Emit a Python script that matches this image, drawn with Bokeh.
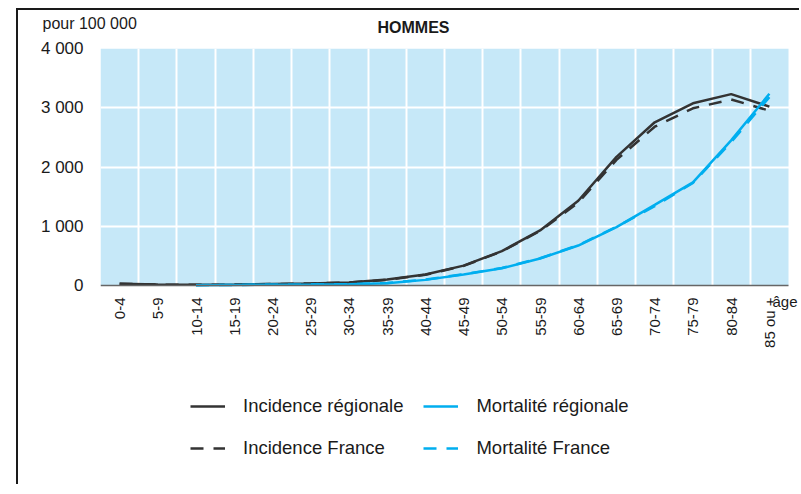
import math
from bokeh.plotting import figure
from bokeh.models import Range1d, FixedTicker, Label, Legend, LegendItem, BoxAnnotation
from bokeh.embed import file_html
from bokeh.resources import INLINE

age_groups = ["0-4", "5-9", "10-14", "15-19", "20-24", "25-29", "30-34", "35-39",
              "40-44", "45-49", "50-54", "55-59", "60-64", "65-69", "70-74", "75-79",
              "80-84", "85 ou +"]
incidence_regionale = [30, 15, 12, 15, 25, 35, 50, 100, 185, 335, 580, 930, 1430, 2170, 2755, 3075, 3230, 3020]
incidence_france = [30, 15, 12, 15, 25, 35, 50, 95, 180, 330, 575, 920, 1400, 2120, 2680, 2990, 3140, 2950]
# mortality starts at 10-14
mortalite_regionale = [5, 10, 12, 15, 20, 40, 95, 185, 290, 455, 675, 985, 1360, 1740, 2450, 3235]
mortalite_france = [5, 10, 12, 15, 22, 42, 100, 190, 295, 460, 680, 990, 1340, 1730, 2420, 3180]
y_ticks = [0, 1000, 2000, 3000, 4000]
y_tick_labels = ["0", "1 000", "2 000", "3 000", "4 000"]
y_max = 4000

FONT = "Liberation Sans"
TXT = "#1a1a1a"
DARK = "#333333"
BLUE = "#00aeef"
BG = "#c6e8f8"

# layout (pixels)
FIG_W = 783
FIG_H = 476
LEFT = 82
TOP = 38          # frame top inside canvas
BOTTOM = 8        # space under frame
PLOT_H = 237      # pixel height of the 0..y_max band
PLOT_W = 688      # pixel width of the category band
frame_h = FIG_H - TOP - BOTTOM
frame_w = FIG_W - LEFT
y_min = -(frame_h - PLOT_H) / PLOT_H * y_max

n = len(age_groups)
x_max = n * frame_w / PLOT_W
x_all = [i + 0.5 for i in range(n)]
x_mort = x_all[n - len(mortalite_regionale):]

p = figure(width=FIG_W, height=FIG_H, output_backend="svg", toolbar_location=None,
           x_range=Range1d(0, x_max), y_range=Range1d(y_min, y_max),
           min_border_left=LEFT, min_border_right=0, min_border_top=TOP, min_border_bottom=BOTTOM)
p.styles = {"border-top": "2px solid #1a1a1a", "border-left": "2px solid #1a1a1a",
            "margin-left": "16px", "margin-top": "8px"}
p.outline_line_color = None
p.background_fill_color = "white"
p.border_fill_color = "white"

p.add_layout(BoxAnnotation(left=0, right=n, bottom=0, top=y_max, fill_color=BG, fill_alpha=1,
                           line_color=None, level="image"))

# grids
p.xgrid.ticker = FixedTicker(ticks=list(range(1, n)))
p.ygrid.ticker = FixedTicker(ticks=[1000, 2000, 3000])
p.xgrid.bounds = (0, y_max)
p.ygrid.bounds = (0, n)
for g in (p.xgrid[0], p.ygrid[0]):
    g.grid_line_color = "white"
    g.grid_line_width = 2

# x axis, drawn at y = 0
xa = p.xaxis[0]
xa.fixed_location = 0
xa.bounds = (0, n)
xa.ticker = FixedTicker(ticks=x_all)
xa.major_label_overrides = {x: lab for x, lab in zip(x_all, age_groups)}
xa.major_label_orientation = math.pi / 2
xa.major_tick_line_color = None
xa.minor_tick_line_color = None
xa.axis_line_color = "#666666"
xa.axis_line_width = 1.5
xa.major_label_standoff = 6
xa.major_label_text_font = FONT
xa.major_label_text_font_size = "15px"
xa.major_label_text_color = TXT

# y axis
ya = p.yaxis[0]
ya.ticker = FixedTicker(ticks=y_ticks)
ya.major_label_overrides = {t: l for t, l in zip(y_ticks, y_tick_labels)}
ya.axis_line_color = None
ya.major_tick_line_color = None
ya.minor_tick_line_color = None
ya.major_label_standoff = 11
ya.major_label_text_font = FONT
ya.major_label_text_font_size = "17px"
ya.major_label_text_color = TXT

r_if = p.line(x_all, incidence_france, line_color=DARK, line_width=2.5, line_dash="13 10")
r_ir = p.line(x_all, incidence_regionale, line_color=DARK, line_width=2.5)
r_mf = p.line(x_mort, mortalite_france, line_color=BLUE, line_width=2.5, line_dash="13 10")
r_mr = p.line(x_mort, mortalite_regionale, line_color=BLUE, line_width=2.5)

legend = Legend(items=[
    LegendItem(label="Incidence régionale", renderers=[r_ir]),
    LegendItem(label="Incidence France", renderers=[r_if]),
    LegendItem(label="Mortalité régionale", renderers=[r_mr]),
    LegendItem(label="Mortalité France", renderers=[r_mf]),
], orientation="vertical", nrows=2, location=(90, 19))
legend.padding = 0
legend.margin = 0
legend.spacing = 20
legend.glyph_width = 35
legend.glyph_height = 20
legend.label_standoff = 18
legend.label_width = 159
legend.label_text_font = FONT
legend.label_text_font_size = "18.5px"
legend.label_text_color = TXT
legend.background_fill_alpha = 0
legend.border_line_color = None
legend.click_policy = "none"
p.add_layout(legend, "center")

p.add_layout(Label(x=313, y=21, x_units="screen", y_units="screen", text="HOMMES",
                   text_font=FONT, text_font_size="16px", text_font_style="bold", text_color=TXT,
                   text_align="center", text_baseline="middle"), "above")
p.add_layout(Label(x=-58, y=8, x_units="screen", y_units="screen", text="pour 100 000",
                   text_font=FONT, text_font_size="16px", text_color=TXT, text_baseline="middle"),
             "above")
p.add_layout(Label(x=672, y=frame_h - PLOT_H - 16, x_units="screen", y_units="screen", text="âge",
                   text_font=FONT, text_font_size="15px", text_color=TXT, text_baseline="middle"))

open("out.html", "w").write(file_html(p, INLINE))
